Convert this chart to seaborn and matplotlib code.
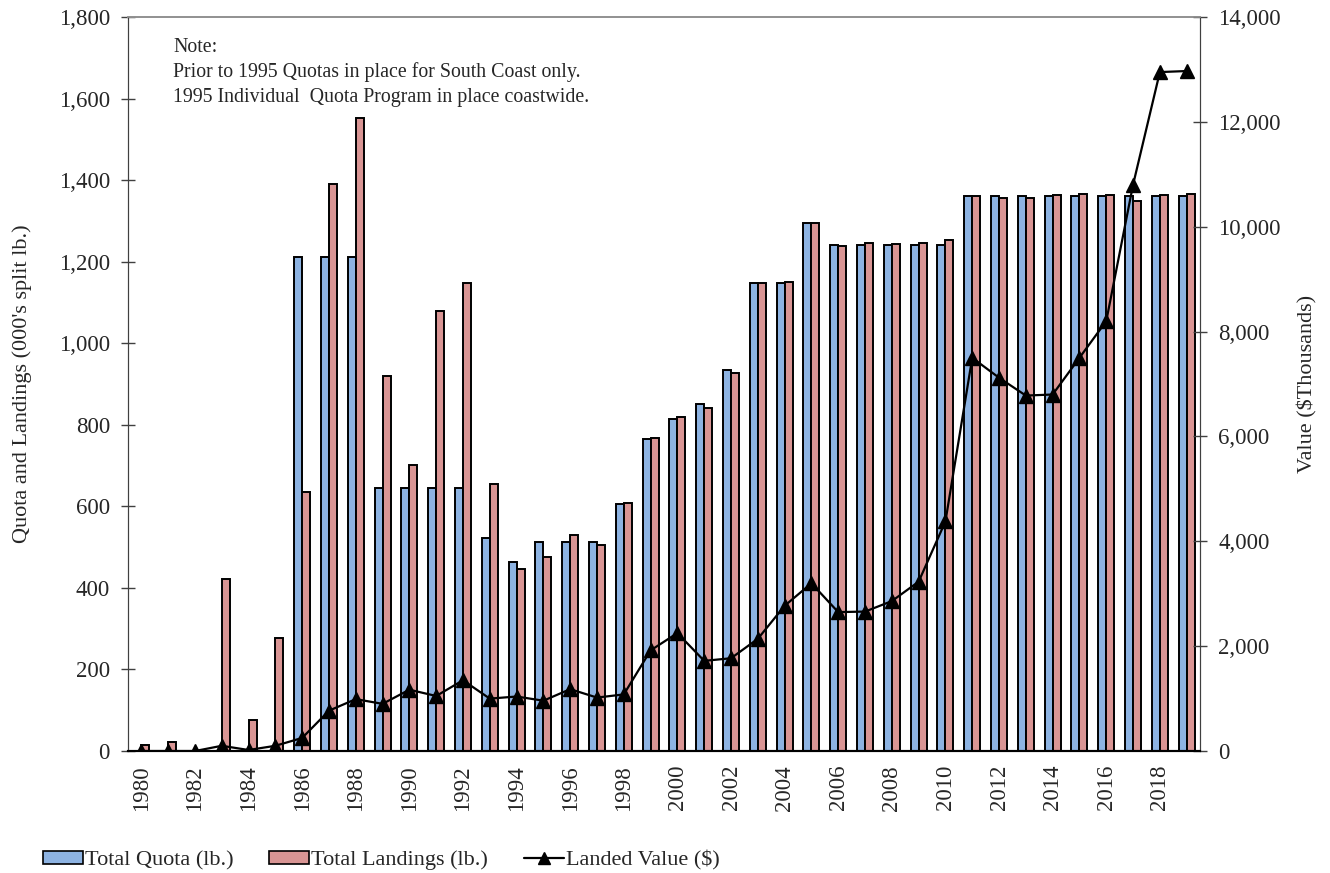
import numpy as np
import pandas as pd
import matplotlib.pyplot as plt
import seaborn as sns
from matplotlib.patches import Patch
from matplotlib.lines import Line2D

years = list(range(1980, 2020))

quota = [0, 0, 0, 0, 0, 0, 1212, 1212, 1212, 645,
         645, 645, 645, 523, 463, 513, 513, 513, 607, 765,
         815, 850, 935, 1147, 1147, 1295, 1240, 1240, 1240, 1240,
         1240, 1360, 1360, 1360, 1360, 1360, 1360, 1360, 1360, 1360]

landings = [15, 22, 0, 423, 75, 278, 635, 1390, 1552, 920,
            702, 1080, 1148, 655, 447, 477, 530, 505, 609, 767,
            820, 840, 928, 1147, 1150, 1295, 1238, 1247, 1244, 1247,
            1252, 1362, 1355, 1357, 1363, 1366, 1364, 1348, 1364, 1366]

# landed value, $ thousands
value = [0, 0, 0, 100, 20, 100, 250, 770, 990, 900,
         1170, 1050, 1350, 1000, 1040, 960, 1180, 1020, 1080, 1920,
         2250, 1720, 1770, 2140, 2770, 3200, 2650, 2660, 2860, 3230,
         4380, 7500, 7120, 6780, 6800, 7500, 8200, 10800, 12950, 12970]

series_names = ['Total Quota (lb.)', 'Total Landings (lb.)', 'Landed Value ($)']
blue = '#8DB3E2'
pink = '#D99594'

sns.set_style('white')
plt.rcParams['font.family'] = ['Liberation Serif', 'DejaVu Serif']

year_str = [str(y) for y in years]
df = pd.DataFrame({
    'Year': year_str * 2,
    'lbs': quota + landings,
    'Series': [series_names[0]] * len(years) + [series_names[1]] * len(years),
})

fig = plt.figure(figsize=(13.3, 8.73), dpi=100)
ax = fig.add_axes([0.0962, 0.1397, 0.8061, 0.8408])

sns.barplot(data=df, x='Year', y='lbs', hue='Series', order=year_str,
            palette=[blue, pink], saturation=1, edgecolor='black', linewidth=1.4,
            width=0.6, ax=ax, legend=False)

ax.set_ylim(0, 1800)
ax.set_yticks(range(0, 1801, 200))
ax.set_yticklabels([f'{v:,}' for v in range(0, 1801, 200)], fontsize=16.5)
ax.set_ylabel("Quota and Landings (000's split lb.)", fontsize=16, labelpad=19)
ax.set_xlabel('')
ax.set_xlim(-0.5, len(years) - 0.5)
ax.set_xticks(range(0, len(years), 2))
ax.set_xticklabels(year_str[::2], rotation=90, fontsize=16.5)
ax.set_xticks(np.arange(-0.5, len(years), 1), minor=True)
ax.tick_params(axis='x', which='major', length=0, pad=10)
ax.tick_params(axis='x', which='minor', length=9, direction='inout', width=1, color='#404040')
ax.tick_params(axis='y', length=10, direction='inout', width=1, color='#404040', pad=8)

ax2 = ax.twinx()
ax2.plot(range(len(years)), value, color='black', linewidth=1.6,
         marker='^', markersize=10)
ax2.set_ylim(0, 14000)
ax2.set_yticks(range(0, 14001, 2000))
ax2.set_yticklabels([f'{v:,}' for v in range(0, 14001, 2000)], fontsize=16.5)
ax2.set_ylabel('Value ($Thousands)', fontsize=16, labelpad=12)
ax2.tick_params(axis='y', length=10, direction='inout', width=1, color='#404040', pad=8)

for a in (ax, ax2):
    a.spines['top'].set_color('#909090')
    a.spines['top'].set_linewidth(1.2)
    a.spines['left'].set_color('#404040')
    a.spines['right'].set_color('#404040')
    a.spines['bottom'].set_color('black')
    a.spines['bottom'].set_linewidth(1.5)

ax.text(0.042, 0.972,
        'Note:\nPrior to 1995 Quotas in place for South Coast only.\n'
        '1995 Individual  Quota Program in place coastwide.',
        transform=ax.transAxes, fontsize=14.3, va='top', ha='left',
        linespacing=1.4)

handles = [
    Patch(facecolor=blue, edgecolor='black', linewidth=1.2),
    Patch(facecolor=pink, edgecolor='black', linewidth=1.2),
    Line2D([0], [0], color='black', linewidth=1.6, marker='^', markersize=8),
]
fig.legend(handles, series_names, loc='lower left', bbox_to_anchor=(0.017, -0.02),
           ncol=3, frameon=False, fontsize=16, handlelength=1.8, handleheight=0.55,
           handletextpad=0.1, columnspacing=1.6)

fig.savefig('out.png', dpi=100)
